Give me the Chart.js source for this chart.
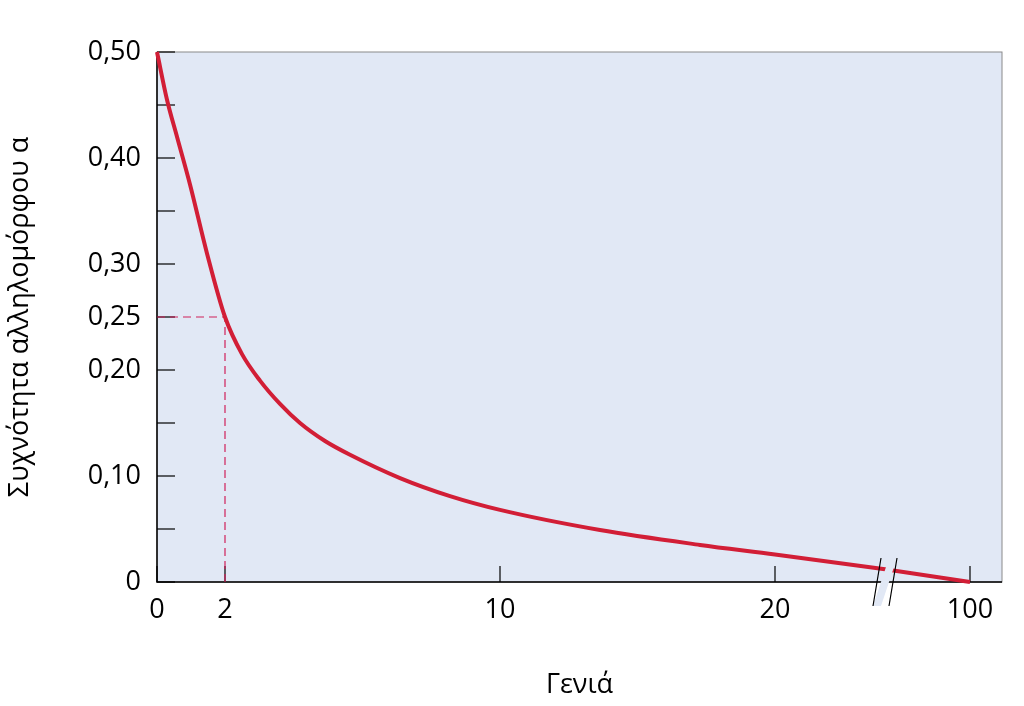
<!DOCTYPE html>
<html><head><meta charset="utf-8">
<script src="https://cdn.jsdelivr.net/npm/chart.js@4"></script>
<style>html,body{margin:0;padding:0;background:#fff}#w{width:1024px;height:706px}</style>
</head><body><div id="w"><canvas id="c"></canvas></div>
<script>
// Generation axis is drawn uneven and broken; positions are given on a 0..845 drawn axis.
const xPositions = [0, 10, 20, 33, 50, 68, 85, 103, 123, 143, 168, 193, 243, 293, 343, 443, 543, 618, 728, 813];
const frequency  = [0.50, 0.455, 0.42, 0.375, 0.31, 0.25, 0.215, 0.19, 0.168, 0.15, 0.133, 0.12, 0.098, 0.081, 0.068, 0.049, 0.035, 0.026, 0.012, 0.0];
const xTickPositions = [0, 68, 343, 618, 813];
const xTickLabels = ["0", "2", "10", "20", "100"];
const yTicks = [0, 0.05, 0.1, 0.15, 0.2, 0.25, 0.3, 0.35, 0.4, 0.45, 0.5];
const yLabels = ["0", "", "0,10", "", "0,20", "0,25", "0,30", "", "0,40", "", "0,50"];
const breakAt = 728;

const font = {family: "'Open Sans', 'Noto Sans', sans-serif", size: 27};

const deco = {
  id: 'deco',
  beforeDatasetsDraw(ch) {
    const {ctx, chartArea: a, scales: {x, y}} = ch;
    ctx.save();
    ctx.fillStyle = '#e1e8f5';
    ctx.fillRect(a.left, a.top, a.right - a.left, a.bottom - a.top);
    ctx.strokeStyle = '#8a8a8a'; ctx.lineWidth = 1;
    ctx.strokeRect(a.left, a.top, a.right - a.left, a.bottom - a.top);
    ctx.strokeStyle = '#000'; ctx.lineWidth = 1.5;
    ctx.beginPath(); ctx.moveTo(a.left, a.top); ctx.lineTo(a.left, a.bottom); ctx.lineTo(a.right, a.bottom); ctx.stroke();
    ctx.lineWidth = 1.2;
    yTicks.forEach(v => { const p = y.getPixelForValue(v); ctx.beginPath(); ctx.moveTo(a.left, p); ctx.lineTo(a.left + 18, p); ctx.stroke(); });
    xTickPositions.forEach(v => { const p = x.getPixelForValue(v); ctx.beginPath(); ctx.moveTo(p, a.bottom); ctx.lineTo(p, a.bottom - 16); ctx.stroke(); });
    ctx.strokeStyle = '#d0205a'; ctx.setLineDash([8, 5]); ctx.lineWidth = 1.2;
    const px = x.getPixelForValue(68), py = y.getPixelForValue(0.25);
    ctx.beginPath(); ctx.moveTo(a.left, py); ctx.lineTo(px, py); ctx.lineTo(px, a.bottom); ctx.stroke();
    ctx.restore();
  },
  afterDatasetsDraw(ch) {
    const {ctx, scales: {x, y}} = ch;
    const bx = x.getPixelForValue(breakAt), by = y.getPixelForValue(0);
    ctx.save();
    ctx.fillStyle = '#e1e8f5';
    ctx.beginPath(); ctx.moveTo(bx - 12, by + 24); ctx.lineTo(bx - 4, by + 24); ctx.lineTo(bx + 12, by - 24); ctx.lineTo(bx + 4, by - 24); ctx.closePath(); ctx.fill();
    ctx.strokeStyle = '#000'; ctx.lineWidth = 1.2;
    [-12, 4].forEach(o => { ctx.beginPath(); ctx.moveTo(bx + o, by + 24); ctx.lineTo(bx + o + 8, by - 24); ctx.stroke(); });
    ctx.restore();
  }
};

new Chart(document.getElementById('c'), {
  type: 'line',
  data: { datasets: [{
    data: xPositions.map((v, i) => ({x: v, y: frequency[i]})),
    borderColor: '#d21e36', borderWidth: 4, pointRadius: 0, cubicInterpolationMode: 'monotone', clip: false
  }]},
  options: {
    responsive: true, maintainAspectRatio: false, animation: false,
    layout: {padding: {top: 52, right: 22, left: 0, bottom: 0}},
    plugins: {legend: {display: false}, tooltip: {enabled: false}},
    scales: {
      x: {
        type: 'linear', min: 0, max: 845,
        grid: {display: false}, border: {display: false},
        afterBuildTicks: s => { s.ticks = xTickPositions.map(v => ({value: v})); },
        ticks: {font, color: '#000', padding: 4, maxRotation: 0, autoSkip: false,
          callback: (v) => { const i = xTickPositions.indexOf(v); return i >= 0 ? xTickLabels[i] : ''; }},
        title: {display: true, text: 'Γενιά', font, color: '#000', padding: {top: 20}},
        afterFit: s => { s.height = 124; s.paddingRight = 0; s.paddingLeft = 0; }
      },
      y: {
        min: 0, max: 0.5,
        grid: {display: false}, border: {display: false},
        afterBuildTicks: s => { s.ticks = yTicks.map(v => ({value: v})); },
        ticks: {font, color: '#000', padding: 8, autoSkip: false,
          callback: (v) => { const i = yTicks.findIndex(t => Math.abs(t - v) < 1e-9); return i >= 0 ? yLabels[i] : ''; }},
        title: {display: true, text: 'Συχνότητα αλληλομόρφου α', font, color: '#000', padding: {bottom: 4}},
        afterFit: s => { s.width = 157; }
      }
    }
  },
  plugins: [deco]
});
</script></body></html>
